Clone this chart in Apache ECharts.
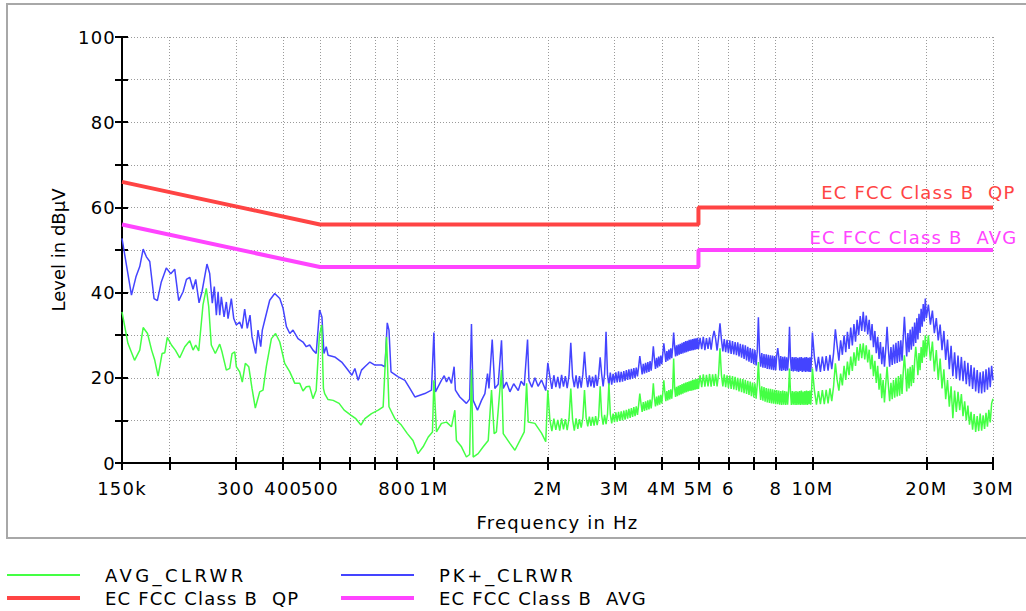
<!DOCTYPE html>
<html><head><meta charset="utf-8">
<script src="https://cdn.jsdelivr.net/npm/echarts@6/dist/echarts.min.js"></script>
<style>
html,body{margin:0;padding:0;background:#fff;}
#chart{width:1026px;height:611px;}
#chart svg text{letter-spacing:1.2px;white-space:pre;}
</style></head><body><div id="chart"></div>
<script>
// ---- axis ticks ----
const xTickMHz  = [0.15,0.2,0.3,0.4,0.5,0.6,0.7,0.8,1,2,3,4,5,6,7,8,10,20,30];
const xTickText = ['150k','','300','400','500','','','800','1M','2M','3M','4M','5M','6','','8','10M','20M','30M'];
const yTickLabels = [0,20,40,60,80,100];

// ---- PK+_CLRWR (blue), 150 kHz .. 2 MHz ----
const pkFreqLow = [
0.150,0.1589,0.1633,0.1671,0.1706,0.1740,0.1776,0.1823,0.1860,0.1905,
0.1964,0.2018,0.2067,0.2118,0.2175,0.2220,0.2265,0.2311,0.2349,0.2397,
0.2440,0.2515,0.2557,0.2598,0.2630,0.2663,0.2691,0.2718,0.2745,0.2791,
0.2830,0.2859,0.2917,0.2960,0.3007,0.3069,0.3113,0.3164,0.3214,0.3268,
0.3308,0.3383,0.3431,0.3488,0.3522,0.3574,0.3684,0.3798,0.3917,0.3996,
0.4078,0.4163,0.4245,0.4376,0.4511,0.4602,0.4697,0.4793,0.4888,0.4990,
0.5061,0.5124,0.5196,0.5254,0.5470,0.5707,0.5888,0.6073,0.6185,0.6310,
0.6438,0.6572,0.6776,0.6985,0.7275,0.7425,0.7531,0.7610,0.7705,0.8051,
0.8387,0.8641,0.8910,0.9183,0.9466,0.9855,1.000,1.0098,1.047,1.065,
1.080,1.095,1.113,1.131,1.140,1.171,1.219,1.243,1.257,1.270,
1.304,1.336,1.364,1.386,1.398,1.426,1.449,1.479,1.509,1.525,
1.555,1.588,1.625,1.671,1.700,1.733,1.768,1.783,1.815,1.849,
1.885,1.925,1.975];
const pkLevelLow = [
52.7,39.4,43.7,46.1,50.2,48.4,47.3,38.6,38.1,42.5,
45.8,44.4,45.5,38.1,40.2,43.1,43.6,40.8,43.1,37.6,
40.2,46.7,44.5,37.5,41.4,34.7,40.2,34.7,39.0,34.3,
37.8,33.9,38.6,33.9,32.4,33.1,31.6,36.1,31.6,34.7,
29.6,25.7,31.2,27.3,31.2,33.5,38.2,39.8,38.6,36.3,
32.0,30.4,31.2,29.2,28.4,27.3,27.7,26.5,25.7,35.9,
34.3,25.7,27.3,25.3,24.9,23.7,22.2,20.6,22.2,19.4,
21.8,22.6,23.7,23.0,23.0,22.6,32.9,31.2,21.4,20.2,
19.4,17.5,15.5,15.9,16.3,17.1,30.6,16.7,19.4,20.5,
19.0,20.2,18.7,22.6,17.1,15.5,14.0,15.0,32.6,14.7,
12.4,14.7,16.3,21.0,17.5,29.0,17.5,18.5,28.8,17.5,
19.0,16.7,18.6,17.0,19.2,18.2,29.0,19.4,17.8,20.0,
18.0,19.5,17.0];

// ---- AVG_CLRWR (green), 150 kHz .. 2 MHz ----
const avgFreqLow = [
0.150,0.1555,0.1619,0.1671,0.1706,0.1752,0.1796,0.1831,0.1868,0.1914,
0.1946,0.1976,0.2026,0.2075,0.2131,0.2198,0.2265,0.2311,0.2349,0.2392,
0.2455,0.2505,0.2542,0.2582,0.2646,0.2718,0.2756,0.2830,0.2889,0.2930,
0.2978,0.3007,0.3069,0.3118,0.3176,0.3243,0.3308,0.3375,0.3466,0.3537,
0.3609,0.3722,0.3818,0.3917,0.4036,0.4163,0.4292,0.4423,0.4511,0.4602,
0.4697,0.4793,0.4888,0.4984,0.5055,0.5108,0.5146,0.5254,0.5420,0.5619,
0.5795,0.6046,0.6221,0.6416,0.6572,0.6842,0.7127,0.7345,0.7498,0.7610,
0.7888,0.8206,0.8511,0.8807,0.9079,0.9366,0.9665,0.9915,1.000,1.016,
1.047,1.080,1.113,1.136,1.147,1.183,1.219,1.243,1.257,1.270,
1.309,1.350,1.392,1.420,1.443,1.463,1.509,1.525,1.588,1.637,
1.688,1.733,1.758,1.775,1.849,1.925,1.975];
const avgLevelLow = [
35.5,28.1,24.1,26.5,31.8,30.4,26.5,24.1,20.4,25.7,
25.9,29.5,27.7,26.5,24.7,27.3,28.7,26.5,27.7,26.3,
37.1,41.0,36.7,27.7,25.7,27.9,26.1,21.8,22.2,25.7,
26.1,22.6,21.4,19.0,23.4,22.6,17.5,12.9,16.7,17.1,
22.6,29.2,30.4,28.4,23.4,21.4,18.7,18.7,16.9,17.9,
18.0,15.1,17.1,30.0,32.4,17.5,16.3,14.9,14.7,14.0,
12.4,11.2,10.4,8.9,10.4,11.6,12.4,13.2,29.6,13.2,
10.4,8.9,6.9,5.3,2.2,3.8,6.1,7.3,19.4,7.3,
9.3,9.6,8.5,12.4,5.3,3.8,1.4,2.0,22.0,1.4,
2.2,3.8,5.3,17.1,6.9,7.3,21.8,6.9,4.6,3.0,
5.3,7.3,18.7,9.6,9.3,7.0,5.0];

// ---- 2 MHz .. 5 MHz sweep (shared frequencies) ----
const midFreq = [
2.000,2.025,2.050,2.075,2.100,2.125,2.150,2.175,2.200,2.225,
2.250,2.275,2.300,2.325,2.350,2.375,2.400,2.425,2.450,2.475,
2.500,2.525,2.550,2.575,2.600,2.625,2.650,2.675,2.700,2.725,
2.750,2.775,2.800,2.825,2.850,2.875,2.900,2.925,2.950,2.975,
3.000,3.025,3.050,3.075,3.100,3.125,3.150,3.175,3.200,3.225,
3.250,3.275,3.300,3.325,3.350,3.375,3.400,3.425,3.450,3.475,
3.500,3.525,3.550,3.575,3.600,3.625,3.650,3.675,3.700,3.725,
3.750,3.775,3.800,3.825,3.850,3.875,3.900,3.925,3.950,3.975,
4.000,4.025,4.050,4.075,4.100,4.125,4.150,4.175,4.200,4.225,
4.250,4.275,4.300,4.325,4.350,4.375,4.400,4.425,4.450,4.475,
4.500,4.525,4.550,4.575,4.600,4.625,4.650,4.675,4.700,4.725,
4.750,4.775,4.800,4.825,4.850,4.875,4.900,4.925,4.950,4.975,
5.000];
const pkMid = [
23.5,20.3,17.4,20.6,17.8,20.2,17.5,20.7,17.9,20.4,
17.6,20.5,28.2,20.3,17.8,20.6,17.5,20.4,17.7,20.8,
26.1,20.5,17.8,20.6,18.0,20.3,17.7,20.7,18.1,20.5,
24.8,20.9,18.0,21.0,30.8,20.8,18.2,21.2,18.4,20.9,
18.8,21.3,18.9,21.5,19.0,21.4,19.1,21.6,19.3,21.8,
19.5,22.0,19.6,22.1,19.8,22.3,20.0,22.4,20.3,22.6,
25.1,23.0,20.8,23.3,21.0,23.5,21.2,23.7,21.4,23.9,
21.7,24.2,27.4,24.4,22.1,24.7,22.4,25.0,22.7,25.2,
23.2,25.6,28.1,26.0,23.7,26.3,24.0,26.6,24.3,26.9,
24.6,27.2,30.6,27.4,25.0,27.6,25.2,27.8,25.4,28.0,
25.6,28.2,25.7,28.4,25.9,28.6,26.0,28.7,26.2,28.9,
26.3,29.0,26.4,29.1,26.5,29.2,26.6,29.3,26.7,29.4,
26.8];
const avgMid = [
17.1,10.2,7.5,10.4,7.8,10.1,7.6,10.5,7.9,10.3,
7.7,10.4,17.5,10.2,7.6,10.5,8.0,10.3,8.3,10.6,
17.1,10.7,8.6,10.9,8.7,10.8,8.8,11.0,8.9,10.9,
18.0,11.2,9.0,11.3,9.1,11.4,18.7,11.5,9.3,11.6,
9.6,11.9,9.7,12.0,9.9,12.1,10.0,12.3,10.2,12.5,
10.4,12.7,10.6,12.9,10.8,13.1,11.0,13.3,11.3,13.6,
16.3,14.0,12.0,14.3,12.2,14.5,12.4,14.7,12.6,14.9,
12.8,15.1,18.7,15.3,13.3,15.6,13.5,15.8,13.7,16.0,
14.0,16.4,19.4,16.7,14.5,16.9,14.7,17.1,14.9,17.3,
15.1,17.5,24.5,17.7,15.5,17.9,15.7,18.1,15.9,18.3,
16.1,18.5,16.3,18.7,16.5,18.9,16.6,19.0,16.8,19.2,
16.9,19.3,17.0,19.5,17.1,19.6,17.2,19.7,17.3,19.8,
17.4];

// ---- 5 MHz .. 30 MHz sweep (shared frequencies) ----
const hfFreq = [
5.05,5.10,5.15,5.20,5.25,5.30,5.35,5.40,5.45,5.50,
5.55,5.60,5.65,5.70,5.75,5.80,5.85,5.90,5.95,6.00,
6.05,6.10,6.15,6.20,6.25,6.30,6.35,6.40,6.45,6.50,
6.55,6.60,6.65,6.70,6.75,6.80,6.85,6.90,6.95,7.00,
7.05,7.10,7.15,7.20,7.25,7.30,7.35,7.40,7.45,7.50,
7.55,7.60,7.65,7.70,7.75,7.80,7.85,7.90,7.95,8.00,
8.05,8.10,8.15,8.20,8.25,8.30,8.35,8.40,8.45,8.50,
8.55,8.60,8.65,8.70,8.75,8.80,8.85,8.90,8.95,9.00,
9.05,9.10,9.15,9.20,9.25,9.30,9.35,9.40,9.45,9.50,
9.55,9.60,9.65,9.70,9.75,9.80,9.85,9.90,9.95,10.00,
10.125,10.25,10.375,10.5,10.625,10.75,10.875,11.0,
11.125,11.25,11.375,11.5,11.625,11.75,11.875,12.0,
12.125,12.25,12.375,12.5,12.625,12.75,12.875,13.0,
13.125,13.25,13.375,13.5,13.625,13.75,13.875,14.0,
14.125,14.25,14.375,14.5,14.625,14.75,14.875,15.0,
15.125,15.25,15.375,15.5,15.625,15.75,15.875,16.0,
16.125,16.25,16.375,16.5,16.625,16.75,16.875,17.0,
17.125,17.25,17.375,17.5,17.625,17.75,17.875,18.0,
18.125,18.25,18.375,18.5,18.625,18.75,18.875,19.0,
19.125,19.25,19.375,19.5,19.625,19.75,19.875,20.0,
20.25,20.5,20.75,21.0,21.25,21.5,21.75,22.0,
22.25,22.5,22.75,23.0,23.25,23.5,23.75,24.0,
24.25,24.5,24.75,25.0,25.25,25.5,25.75,26.0,
26.25,26.5,26.75,27.0,27.25,27.5,27.75,28.0,
28.25,28.5,28.75,29.0,29.25,29.5,29.75,30.0];
const pkHigh = [
29.4,26.7,29.6,26.5,29.3,26.8,29.5,26.6,29.4,31.0,
29.2,26.4,29.3,32.8,29.0,26.2,29.1,26.0,28.9,25.8,
28.8,25.6,28.6,25.5,28.4,25.3,28.3,25.0,28.0,24.7,
27.8,24.4,27.6,24.1,27.3,23.8,27.0,23.5,26.8,23.2,
26.5,22.9,26.2,34.2,26.0,22.6,25.8,22.4,25.6,22.3,
25.5,22.1,25.4,22.0,25.3,21.9,25.2,21.8,25.1,21.8,
25.2,27.0,25.0,21.7,25.1,21.6,24.9,21.8,25.0,21.6,
24.8,21.7,24.9,32.0,24.8,21.6,24.9,21.5,24.8,21.6,
24.9,21.5,24.7,21.4,24.8,21.6,24.9,21.4,24.7,21.5,
24.8,21.4,24.9,21.5,24.7,21.4,24.8,21.4,24.8,30.6,
24.8,21.5,24.9,21.4,25.0,21.6,25.1,21.7,
25.4,22.0,25.8,31.4,27.5,24.0,28.8,25.4,
30.0,26.0,30.8,26.8,31.8,27.6,32.6,28.5,
33.6,30.0,34.5,31.0,35.5,30.8,34.6,30.2,
33.6,28.8,32.6,27.2,31.0,25.8,29.6,24.4,
28.4,23.2,27.3,22.6,26.8,32.0,26.6,22.6,
27.2,23.0,27.8,23.3,28.2,23.5,28.6,23.8,
28.8,24.0,29.2,34.3,29.5,25.0,30.5,26.0,
31.3,26.6,32.0,27.4,33.0,28.2,34.0,29.0,
35.0,30.5,36.2,32.0,37.3,33.2,38.6,34.0,
37.2,32.5,35.8,30.5,34.0,28.8,32.5,26.5,
31.0,24.2,29.0,22.0,27.5,20.4,26.0,19.8,
25.2,19.4,24.9,19.2,24.0,18.5,23.5,18.0,
23.0,17.4,22.4,16.8,21.8,16.4,21.3,16.3,
21.5,16.6,22.0,17.2,22.4,17.8,22.8,19.4];
const avgHigh = [
20.6,17.8,20.8,17.9,20.7,18.0,20.9,17.9,20.8,18.1,
20.9,18.0,20.8,26.9,20.7,18.0,20.8,17.8,20.6,17.6,
20.5,17.4,20.4,17.3,20.2,17.1,20.0,16.8,19.8,16.6,
19.7,16.4,19.5,16.2,19.3,16.0,19.1,15.7,18.9,15.4,
18.7,15.1,18.4,23.7,18.2,14.8,18.0,14.6,17.8,14.4,
17.6,14.2,17.5,14.1,17.4,14.0,17.3,13.9,17.2,13.8,
17.1,13.8,17.0,13.7,16.9,13.6,17.0,13.7,16.9,13.6,
16.8,13.7,16.9,22.2,16.8,13.6,16.9,13.7,16.8,13.6,
16.9,13.6,16.8,13.7,16.9,13.6,17.0,13.7,16.8,13.6,
16.9,13.7,17.0,13.6,16.9,13.8,17.0,13.7,16.9,22.2,
17.0,13.7,16.9,13.8,17.1,13.8,17.2,14.0,
17.5,14.5,18.0,23.4,19.5,17.0,21.0,18.2,
22.8,19.5,23.8,20.6,25.0,21.6,26.0,22.8,
27.2,24.0,28.0,24.6,28.1,24.3,27.6,23.6,
26.6,22.0,25.4,20.4,24.0,18.8,22.8,17.2,
21.0,15.2,19.5,14.2,18.6,22.6,18.2,14.5,
18.8,15.0,19.5,15.3,20.0,15.6,20.4,15.8,
20.8,16.2,21.2,25.3,21.6,16.8,22.2,17.5,
22.6,18.0,23.0,18.8,23.8,27.3,24.5,20.6,
25.8,21.8,27.2,23.5,28.8,24.8,30.0,25.0,
30.0,24.0,28.5,21.5,26.5,19.5,24.5,17.5,
22.0,15.0,19.5,13.2,18.0,10.5,17.0,12.0,
16.7,12.4,16.2,11.0,14.5,10.0,13.5,9.0,
12.0,7.8,11.5,7.3,11.0,7.5,11.6,7.6,
11.2,8.0,11.8,8.5,12.5,9.5,14.0,15.1];

// ---- limit lines ----
const limFreq  = [0.15,0.5,5,5,30];
const qpLimit  = [66,56,56,60,60];
const avgLimit = [56,46,46,50,50];

const NAME_AVG = 'AVG_CLRWR', NAME_PK = 'PK+_CLRWR';
const NAME_QP = 'EC FCC Class B  QP', NAME_AL = 'EC FCC Class B  AVG';
const FONT = 'DejaVu Sans';
const C_GREEN = '#44ff44', C_BLUE = '#4444ff', C_RED = '#ff4444', C_MAG = '#ff44ff';

const toXY = (fs, vs) => fs.map((f, i) => [Math.log10(f), vs[i]]);
const pkData  = toXY(pkFreqLow.concat(midFreq, hfFreq), pkLevelLow.concat(pkMid, pkHigh));
const avgData = toXY(avgFreqLow.concat(midFreq, hfFreq), avgLevelLow.concat(avgMid, avgHigh));
const qpData  = toXY(limFreq, qpLimit);
const alData  = toXY(limFreq, avgLimit);

const xMin = Math.log10(0.15), xMax = Math.log10(30);
const tickVals = xTickMHz.map(f => Math.log10(f));
const labelVals = xTickMHz.filter((f, i) => xTickText[i] !== '').map(f => Math.log10(f));
const fmtX = v => { for (let i = 0; i < xTickMHz.length; i++) if (Math.abs(Math.log10(xTickMHz[i]) - v) < 1e-6) return xTickText[i]; return ''; };
const txt = (size) => ({ fontFamily: FONT, fontSize: size, color: '#000' });
const GRID_LINE = { color: '#9a9a9a', width: 1, type: [1, 2] };

const chart = echarts.init(document.getElementById('chart'), null, { renderer: 'svg' });
const endLabel = (d, name, color, dx, dy) => ({
  symbol: 'circle', symbolSize: 1, silent: true, itemStyle: { color: 'rgba(0,0,0,0)' },
  data: [{ coord: d[d.length - 1] }],
  label: { show: true, position: 'left', distance: 0, offset: [dx, dy], formatter: name,
    fontFamily: FONT, fontSize: 18, color: color }
});
const legendItem = (name, left, top, h) => ({
  left: left, top: top, padding: 0, orient: 'horizontal', icon: 'rect',
  itemWidth: 73, itemHeight: h, selectedMode: false,
  textStyle: { ...txt(18), padding: [0, 0, 0, 20] }, data: [name]
});

chart.setOption({
  animation: false,
  graphic: [{ type: 'rect', silent: true, z: -10,
    shape: { x: 7, y: 4, width: 1040, height: 534 },
    style: { fill: 'none', stroke: '#a8a8a8', lineWidth: 2 } }],
  grid: { left: 122, right: 33, top: 37, bottom: 148 },
  xAxis: [{
    type: 'value', min: xMin, max: xMax, position: 'bottom',
    name: 'Frequency in Hz', nameLocation: 'middle', nameGap: 50, nameMoveOverlap: false,
    nameTextStyle: txt(18),
    axisLine: { onZero: false, lineStyle: { color: '#000', width: 2 } },
    axisTick: { customValues: tickVals, length: 7, lineStyle: { color: '#000', width: 2 } },
    axisLabel: { customValues: labelVals, formatter: fmtX, margin: 16, showMinLabel: true, showMaxLabel: true, ...txt(18) },
    splitLine: { show: true, lineStyle: GRID_LINE }
  }, {
    type: 'value', min: xMin, max: xMax, position: 'bottom',
    axisLine: { show: false, onZero: false },
    axisTick: { inside: true, customValues: tickVals, length: 6, lineStyle: { color: '#000', width: 2 } },
    axisLabel: { show: false }, splitLine: { show: false }
  }],
  yAxis: [{
    type: 'value', min: 0, max: 100, interval: 10, position: 'left',
    name: 'Level in dBµV', nameLocation: 'middle', nameGap: 55, nameMoveOverlap: false,
    nameTextStyle: txt(18),
    axisLine: { show: true, onZero: false, lineStyle: { color: '#000', width: 2 } },
    axisTick: { show: true, length: 7, lineStyle: { color: '#000', width: 2 } },
    axisLabel: { customValues: yTickLabels, margin: 6, ...txt(18) },
    splitLine: { show: true, lineStyle: GRID_LINE }
  }, {
    type: 'value', min: 0, max: 100, interval: 10, position: 'left',
    axisLine: { show: false, onZero: false },
    axisTick: { show: true, inside: true, length: 6, lineStyle: { color: '#000', width: 2 } },
    axisLabel: { show: false }, splitLine: { show: false }
  }],
  legend: [
    legendItem(NAME_AVG, 7, 566, 2),
    legendItem(NAME_QP, 7, 589, 4),
    legendItem(NAME_PK, 341, 566, 2),
    legendItem(NAME_AL, 341, 589, 4)
  ],
  series: [
    { name: NAME_PK, type: 'line', data: pkData, showSymbol: false, symbol: 'none', silent: true,
      lineStyle: { color: C_BLUE, width: 1.5 }, itemStyle: { color: C_BLUE } },
    { name: NAME_AVG, type: 'line', data: avgData, showSymbol: false, symbol: 'none', silent: true,
      lineStyle: { color: C_GREEN, width: 1.5 }, itemStyle: { color: C_GREEN } },
    { name: NAME_QP, type: 'line', data: qpData, showSymbol: false, symbol: 'none', silent: true,
      lineStyle: { color: C_RED, width: 4 }, itemStyle: { color: C_RED },
      markPoint: endLabel(qpData, NAME_QP, C_RED, 23, -15) },
    { name: NAME_AL, type: 'line', data: alData, showSymbol: false, symbol: 'none', silent: true,
      lineStyle: { color: C_MAG, width: 4 }, itemStyle: { color: C_MAG },
      markPoint: endLabel(alData, NAME_AL, C_MAG, 25, -13) }
  ]
});

const LS = { 'AVG_CLRWR': 3.4, 'PK+_CLRWR': 2.8, 'Level in dBµV': 0 };
function applySpacing() {
  document.querySelectorAll('#chart svg text').forEach(t => {
    const k = t.textContent;
    if (Object.prototype.hasOwnProperty.call(LS, k)) t.style.letterSpacing = LS[k] + 'px';
  });
}
chart.on('finished', applySpacing);
setTimeout(applySpacing, 30);
</script></body></html>
